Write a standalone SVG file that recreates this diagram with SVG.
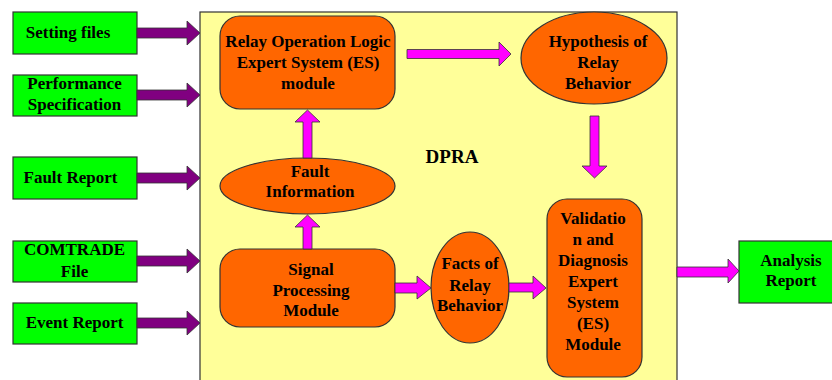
<svg xmlns="http://www.w3.org/2000/svg" width="832" height="380" viewBox="0 0 832 380" font-family="'Liberation Serif', 'Times New Roman', Times, serif">
<style>
.in{fill:#00ff00;stroke:#333;stroke-width:1.2}
.proc{fill:#ff6600;stroke:#333;stroke-width:1.2}
.t{font-family:'Liberation Serif','Times New Roman',Times,serif;font-weight:bold;font-size:17px;fill:#000;text-anchor:middle}
.pa{fill:#800080;stroke:#333;stroke-width:0.8}
.ma{fill:#ff00ff;stroke:#333;stroke-width:0.8}
</style>
<defs>
<path id="parr" d="M0,-5 H50 V-12 L63,0 L50,12 V5 H0 Z"/>
</defs>
<rect width="832" height="380" fill="#fff"/>
<g id="dpra">
<rect x="200" y="12" width="477" height="380" fill="#ffff99" stroke="#333" stroke-width="1.2"/>
<text class="t" x="452" y="163" style="font-size:19px">DPRA</text>
</g>
<g id="setting-files">
<rect class="in" x="13" y="12" width="124" height="42"/>
<text class="t" x="68" y="38">Setting files</text>
</g>
<g id="performance-spec">
<rect class="in" x="13" y="75" width="124" height="41"/>
<text class="t" x="74.5" y="89">Performance</text>
<text class="t" x="74.5" y="110">Specification</text>
</g>
<g id="fault-report">
<rect class="in" x="13" y="157" width="124" height="42"/>
<text class="t" x="70.5" y="183">Fault Report</text>
</g>
<g id="comtrade">
<rect class="in" x="13" y="241" width="124" height="41"/>
<text class="t" x="74.5" y="255">COMTRADE</text>
<text class="t" x="74.5" y="277">File</text>
</g>
<g id="event-report">
<rect class="in" x="13" y="303" width="124" height="41"/>
<text class="t" x="74.5" y="328">Event Report</text>
</g>
<g id="relay-logic-es">
<rect class="proc" x="220" y="16" width="175" height="93" rx="20"/>
<text class="t" x="308" y="47">Relay Operation Logic</text>
<text class="t" x="308" y="68">Expert System (ES)</text>
<text class="t" x="308" y="89">module</text>
</g>
<g id="hypothesis">
<ellipse class="proc" cx="594" cy="58" rx="73" ry="46"/>
<text class="t" x="598" y="47">Hypothesis of</text>
<text class="t" x="598" y="68">Relay</text>
<text class="t" x="598" y="89">Behavior</text>
</g>
<g id="fault-information">
<ellipse class="proc" cx="307.5" cy="186" rx="87.5" ry="28"/>
<text class="t" x="310" y="177">Fault</text>
<text class="t" x="310" y="197">Information</text>
</g>
<g id="signal-processing">
<rect class="proc" x="220" y="249" width="175" height="78" rx="20"/>
<text class="t" x="311" y="275">Signal</text>
<text class="t" x="311" y="296">Processing</text>
<text class="t" x="311" y="316">Module</text>
</g>
<g id="facts">
<ellipse class="proc" cx="470" cy="287.5" rx="39" ry="55.5"/>
<text class="t" x="470" y="269">Facts of</text>
<text class="t" x="470" y="291">Relay</text>
<text class="t" x="470" y="311">Behavior</text>
</g>
<g id="validation-es">
<rect class="proc" x="547" y="199" width="95" height="178" rx="20"/>
<text class="t" x="593" y="224">Validatio</text>
<text class="t" x="593" y="245">n and</text>
<text class="t" x="593" y="266">Diagnosis</text>
<text class="t" x="593" y="287">Expert</text>
<text class="t" x="593" y="308">System</text>
<text class="t" x="593" y="329">(ES)</text>
<text class="t" x="593" y="350">Module</text>
</g>
<g id="analysis-report">
<rect class="in" x="739" y="241" width="100" height="62"/>
<text class="t" x="791" y="266">Analysis</text>
<text class="t" x="791" y="286">Report</text>
</g>
<g id="connectors">
<use href="#parr" class="pa" x="137" y="33"/>
<use href="#parr" class="pa" x="137" y="95"/>
<use href="#parr" class="pa" x="137" y="178"/>
<use href="#parr" class="pa" x="137" y="261"/>
<use href="#parr" class="pa" x="137" y="323"/>
<polygon class="ma" points="407,49.5 499,49.5 499,42 511,54 499,66 499,58.5 407,58.5"/>
<polygon class="ma" points="590,116 599,116 599,166 607,166 594.5,178 582,166 590,166"/>
<polygon class="ma" points="303,158 303,122 295,122 307.5,110 320,122 312,122 312,158"/>
<polygon class="ma" points="303,249 303,227 295,227 307.5,215 320,227 312,227 312,249"/>
<polygon class="ma" points="395,283 417,283 417,276 431,288 417,299 417,293 395,293"/>
<polygon class="ma" points="509,283 533,283 533,276 546,288 533,299 533,292 509,292"/>
<polygon class="ma" points="677,267 728,267 728,259 739,271 728,283 728,277 677,277"/>
</g>
</svg>
